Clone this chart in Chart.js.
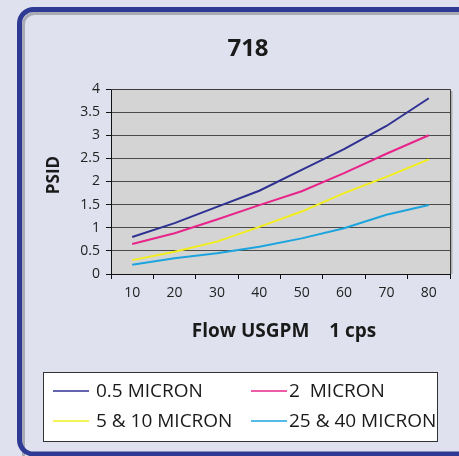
<!DOCTYPE html>
<html>
<head>
<meta charset="utf-8">
<script src="https://cdn.jsdelivr.net/npm/chart.js@4"></script>
<style>
    html, body { margin: 0; padding: 0; background: #dfe2ee; }
    canvas { display: block; }
</style>
</head>
<body>
<canvas id="flowChart" width="459" height="456"></canvas>
<script>
const flowLabels = ['10', '20', '30', '40', '50', '60', '70', '80'];
const seriesNames = ['0.5 MICRON', '2  MICRON', '5 & 10 MICRON', '25 & 40 MICRON'];
const micron05 = [0.8, 1.1, 1.45, 1.8, 2.25, 2.7, 3.2, 3.8];
const micron2 = [0.65, 0.88, 1.18, 1.49, 1.79, 2.18, 2.6, 3.0];
const micron5to10 = [0.3, 0.48, 0.7, 1.02, 1.35, 1.75, 2.1, 2.48];
const micron25to40 = [0.2, 0.34, 0.45, 0.59, 0.77, 0.99, 1.28, 1.49];
const seriesColors = ['#2e3192', '#e8248a', '#f2ee1e', '#1ca4de'];

const chartTitle = '718';
const yTitle = 'PSID';
const xTitle = 'Flow USGPM    1 cps';

const fontFamily = '"Open Sans", sans-serif';

// frame, plot background, titles and the boxed legend
const decorPlugin = {
    id: 'decor',
    beforeDraw(chart) {
        const ctx = chart.ctx;
        const a = chart.chartArea;
        ctx.save();
        ctx.fillStyle = '#dfe2ee';
        ctx.fillRect(0, 0, chart.width, chart.height);

        // inner gray shadow of the frame
        ctx.strokeStyle = '#a9abb4';
        ctx.lineWidth = 3;
        ctx.beginPath();
        ctx.roundRect(23.5, 13.5, 470, 470, 11);
        ctx.stroke();
        // blue frame
        ctx.strokeStyle = '#2f3a94';
        ctx.lineWidth = 5;
        ctx.beginPath();
        ctx.roundRect(19.5, 9.5, 470, 444.5, 14);
        ctx.stroke();

        ctx.fillStyle = '#d4d4d4';
        ctx.fillRect(a.left, a.top, a.right - a.left, a.bottom - a.top);
        ctx.restore();
    },
    afterDatasetsDraw(chart) {
        const ctx = chart.ctx;
        const a = chart.chartArea;
        ctx.save();
        // top and right border of the plot
        ctx.strokeStyle = '#b0b0b0';
        ctx.lineWidth = 2;
        ctx.beginPath();
        ctx.moveTo(a.right + 1.5, a.top + 2);
        ctx.lineTo(a.right + 1.5, a.bottom);
        ctx.stroke();
        ctx.strokeStyle = '#3a3a3a';
        ctx.lineWidth = 1;
        ctx.beginPath();
        ctx.moveTo(a.left, a.top + 0.5);
        ctx.lineTo(a.right + 0.5, a.top + 0.5);
        ctx.lineTo(a.right + 0.5, a.bottom);
        ctx.stroke();

        ctx.fillStyle = '#1a1a1a';
        ctx.textAlign = 'center';
        ctx.textBaseline = 'middle';
        ctx.font = 'bold 24px ' + fontFamily;
        ctx.fillText(chartTitle, 248, 49);

        ctx.font = 'bold 19px ' + fontFamily;
        ctx.fillText(xTitle, 284, 332);

        ctx.save();
        ctx.translate(54, 175);
        ctx.rotate(-Math.PI / 2);
        ctx.font = 'bold 17px ' + fontFamily;
        ctx.fillText(yTitle, 0, 0);
        ctx.restore();

        // legend box
        ctx.fillStyle = '#ffffff';
        ctx.fillRect(43, 372, 395, 70);
        ctx.strokeStyle = '#333333';
        ctx.lineWidth = 1;
        ctx.strokeRect(43.5, 372.5, 394, 69);

        const spots = [[53, 392], [251, 392], [53, 422], [251, 422]];
        ctx.font = '19px ' + fontFamily;
        ctx.textAlign = 'left';
        chart.data.datasets.forEach((ds, i) => {
            const [x, y] = spots[i];
            ctx.strokeStyle = ds.borderColor;
            ctx.lineWidth = 1.5;
            ctx.beginPath();
            ctx.moveTo(x, y - 1);
            ctx.lineTo(x + 36, y - 1);
            ctx.stroke();
            ctx.fillStyle = '#1a1a1a';
            ctx.fillText(ds.label, x + (i % 2 === 0 ? 43 : 38), y);
        });
        ctx.restore();
    }
};

const allSeries = [micron05, micron2, micron5to10, micron25to40];

const data = {
    labels: flowLabels,
    datasets: allSeries.map((values, i) => ({
        label: seriesNames[i],
        data: values,
        borderColor: seriesColors[i],
        backgroundColor: seriesColors[i],
        borderWidth: 2,
        pointRadius: 0,
        tension: 0,
        fill: false
    }))
};

const config = {
    type: 'line',
    data: data,
    options: {
        responsive: false,
        animation: false,
        devicePixelRatio: 1,
        layout: { padding: { top: 89, right: 9, left: 0, bottom: 0 } },
        plugins: {
            legend: { display: false },
            title: { display: false },
            tooltip: { enabled: false }
        },
        scales: {
            x: {
                offset: true,
                afterFit: scale => { scale.height = 182; },
                grid: {
                    drawOnChartArea: false,
                    offset: true,
                    tickLength: 5,
                    tickColor: '#111111'
                },
                border: { color: '#111111', width: 1 },
                ticks: {
                    color: '#222222',
                    padding: 6,
                    font: { family: 'Open Sans', size: 14 }
                }
            },
            y: {
                min: 0,
                max: 4,
                afterFit: scale => { scale.width = 111; },
                grid: {
                    color: '#4a4a4a',
                    lineWidth: 1,
                    tickLength: 5,
                    tickColor: '#111111'
                },
                border: { color: '#111111', width: 1 },
                ticks: {
                    stepSize: 0.5,
                    color: '#222222',
                    padding: 6,
                    font: { family: 'Open Sans', size: 14 },
                    callback: value => String(value)
                }
            }
        }
    },
    plugins: [decorPlugin]
};

new Chart(document.getElementById('flowChart'), config);
</script>
</body>
</html>
